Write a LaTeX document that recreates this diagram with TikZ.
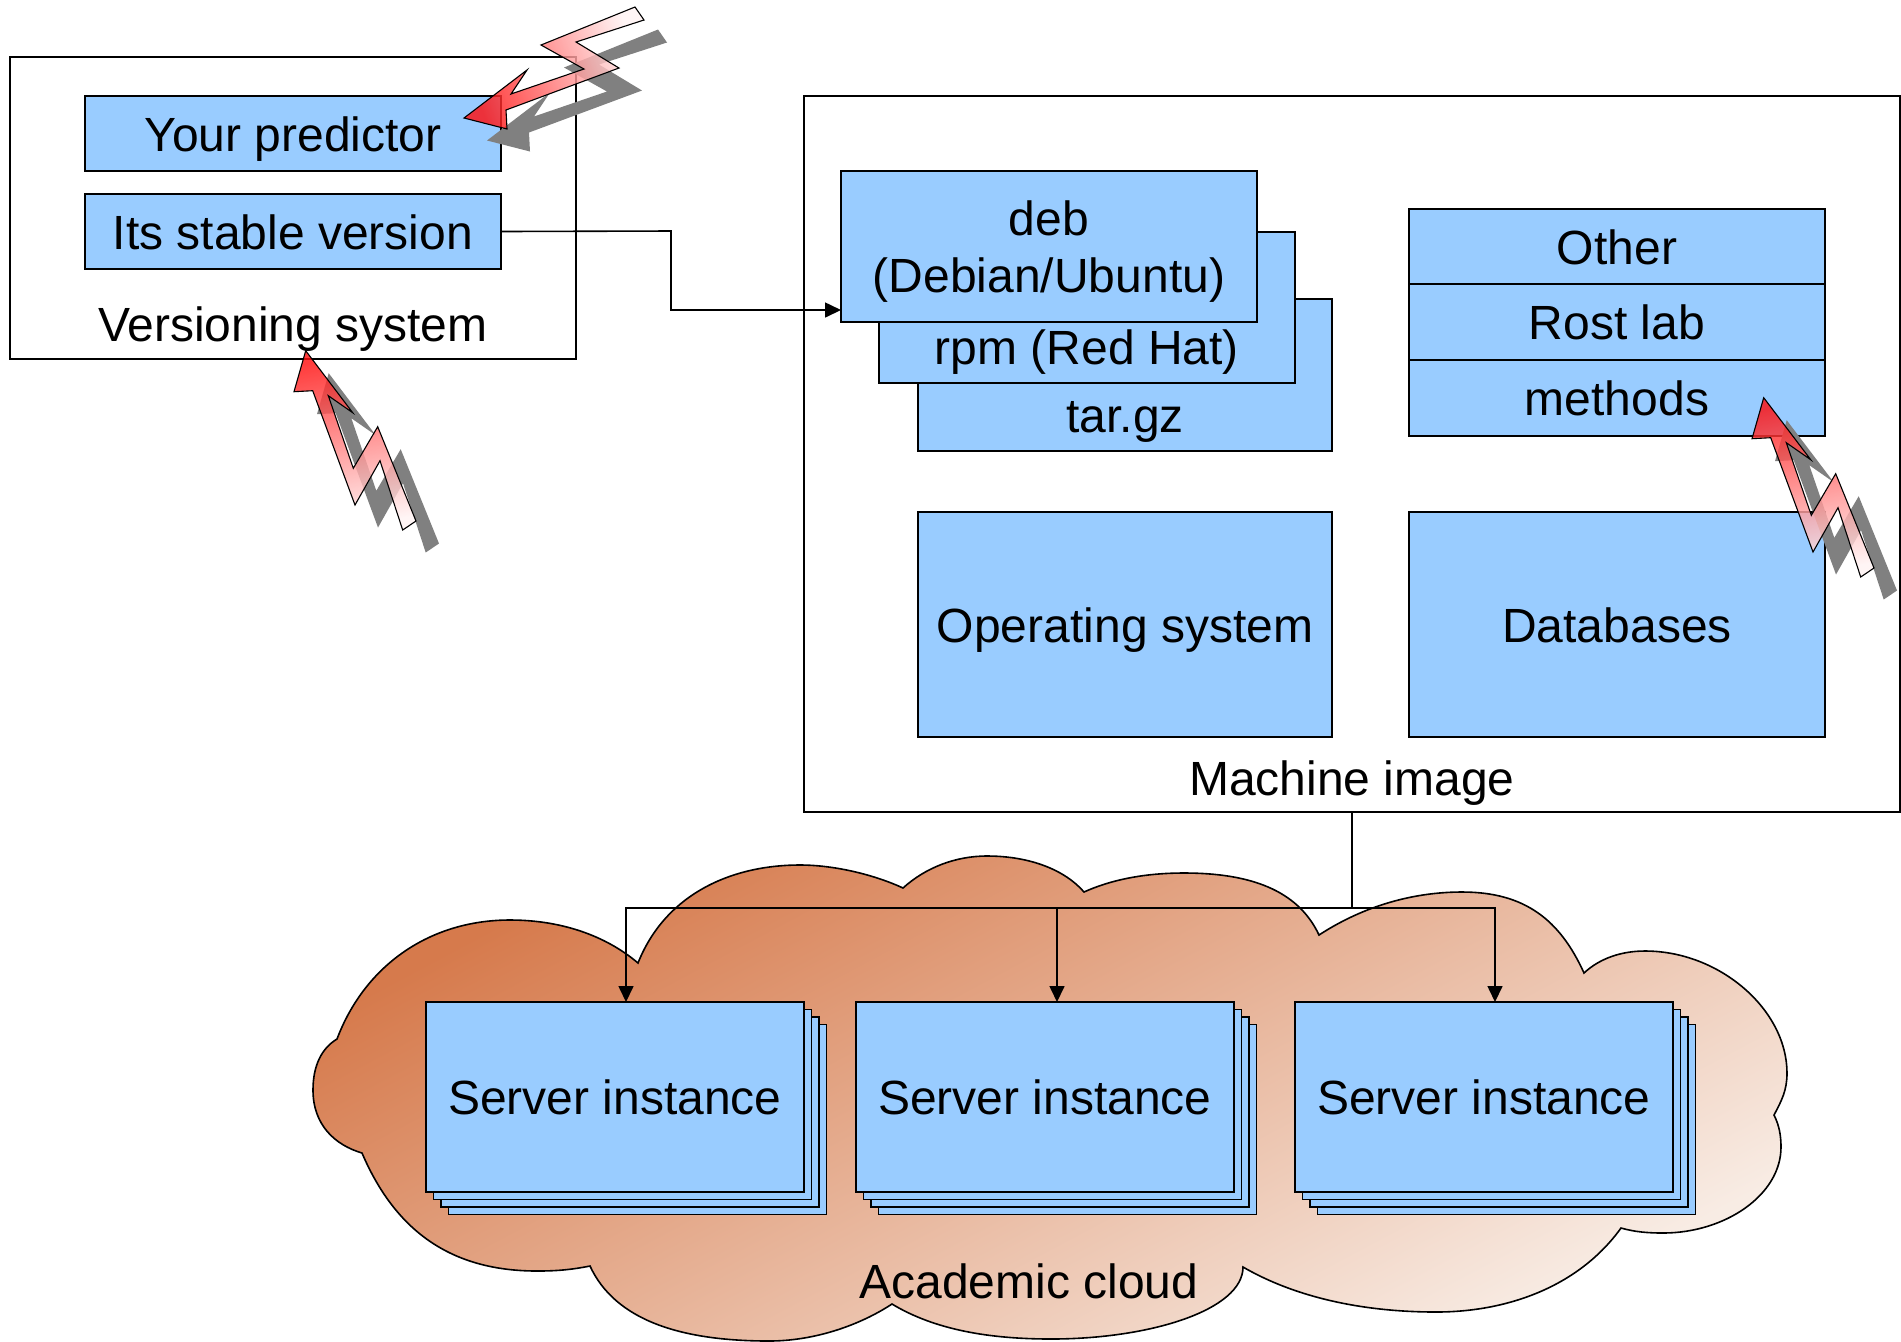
\documentclass[tikz,border=0pt]{standalone}
\usepackage{fontspec}
\setmainfont{Liberation Sans}
\usetikzlibrary{arrows.meta}
\definecolor{boxblue}{HTML}{99CCFF}
\definecolor{shadowgray}{HTML}{808080}
\definecolor{cloudA}{HTML}{D67A4C}
\definecolor{cloudB}{HTML}{F8ECE4}
\definecolor{boltA}{HTML}{FF1010}
\definecolor{boltB}{HTML}{FFF4F4}
\newcommand{\tstrut}{\rule[-0.2em]{0pt}{1.143em}}
\tikzset{
  x=0.5pt, y=-0.5pt,
  line/.style={line width=0.8pt, black},
  bluebox/.style={draw=black, fill=boxblue, line width=0.8pt, inner sep=0pt, outer sep=0pt, align=center, font=\fontsize{24pt}{26.8pt}\selectfont},
  whitebox/.style={bluebox, fill=white},
  lbl/.style={inner sep=0pt, outer sep=0pt, anchor=base, font=\fontsize{24pt}{26.8pt}\selectfont},
  conn/.style={line, -{Triangle[length=8pt,width=7.5pt]}},
  plainconn/.style={line},
  boltshadow/.style={fill=shadowgray, draw=none},
  boltfill/.style={left color=boltA, right color=boltB, draw=none, opacity=0.82},
  boltline/.style={draw=black, line width=0.55pt, fill=none, line join=miter},
}
\newcommand{\pxbox}[7][bluebox]{%
  \node[#1, minimum width={((#5)-(#3))*0.5pt}, minimum height={((#6)-(#4))*0.5pt}] (#2) at ({((#3)+(#5))/2},{((#4)+(#6))/2}) {#7};}
\newcommand{\serverstack}[3]{% name, left, top
  \pxbox{#1c}{#2+22.5}{#3+22.5}{#2+400.5}{#3+212.5}{}
  \pxbox{#1b}{#2+15}{#3+15}{#2+393}{#3+205}{}
  \pxbox{#1a}{#2+7.5}{#3+7.5}{#2+385.5}{#3+197.5}{}
  \pxbox{#1}{#2}{#3}{#2+378}{#3+190}{\tstrut Server instance}}
\def\boltA{(464,118) -- (527,70) -- (511,94) -- (584,69) -- (541,45) -- (635,7) -- (644,20) -- (576,42) -- (619,68) -- (506,110) -- (507,129) -- cycle}
\def\boltB{(305.7,350.7) -- (294,391.7) -- (312.7,390.7) -- (355,505) -- (380,460.7) -- (402.7,530) -- (416,521) -- (377.7,426.7) -- (353.3,468.3) -- (328.3,395.7) -- (352.7,412.7) -- cycle}
\begin{document}
\begin{tikzpicture}
\useasboundingbox (0,0) rectangle (1901,1341);
\fill[white] (0,0) rectangle (1901,1341);
% cloud
\begin{scope}
\clip (0,0) rectangle (1901,1341);
\path[draw=black, line width=0.8pt, left color=cloudA, right color=cloudB, shading angle=28]
 (337,1039) .. controls (365,965) and (430,920) .. (510,920) .. controls (560,920) and (605,935) .. (638,963)
 .. controls (665,895) and (730,865) .. (800,865) .. controls (835,865) and (875,875) .. (903,888)
 .. controls (925,868) and (955,856) .. (987,856) .. controls (1030,856) and (1065,870) .. (1084,892)
 .. controls (1115,878) and (1150,873) .. (1184,873) .. controls (1250,873) and (1298,890) .. (1319,935)
 .. controls (1365,905) and (1415,892) .. (1462,892) .. controls (1525,892) and (1560,920) .. (1584,973)
 .. controls (1600,958) and (1622,951) .. (1645,951) .. controls (1720,951) and (1787,1010) .. (1787,1073)
 .. controls (1787,1090) and (1782,1100) .. (1774,1115)
 .. controls (1779,1125) and (1781,1135) .. (1781,1147) .. controls (1781,1195) and (1725,1233) .. (1663,1233)
 .. controls (1648,1233) and (1635,1232) .. (1621,1228)
 .. controls (1580,1285) and (1510,1312) .. (1436,1312) .. controls (1370,1312) and (1300,1300) .. (1243,1267)
 .. controls (1243,1310) and (1150,1339) .. (1051,1339) .. controls (990,1339) and (935,1330) .. (892,1304)
 .. controls (860,1325) and (815,1341) .. (769,1341) .. controls (680,1341) and (615,1320) .. (590,1266)
 .. controls (570,1270) and (555,1271) .. (537,1271) .. controls (450,1271) and (395,1230) .. (362,1153)
 .. controls (335,1145) and (313,1125) .. (313,1090) .. controls (313,1065) and (322,1048) .. (337,1039) -- cycle;
\end{scope}
% versioning system
\pxbox[whitebox]{vers}{10}{57}{576}{359}{}
\pxbox{pred}{85}{96}{501}{171}{\tstrut Your predictor}
\pxbox{stable}{85}{194}{501}{269}{\tstrut Its stable version}
\node[lbl] (verslbl) at (293,341) {Versioning system};
% machine image
\pxbox[whitebox]{mach}{804}{96}{1900}{812}{}
\pxbox{tar}{918}{299}{1332}{451}{}
\node[lbl] (tarlbl) at (1125,432) {tar.gz};
\pxbox{rpm}{879}{232}{1295}{383}{}
\node[lbl] (rpmlbl) at (1087,364) {rpm (Red Hat)};
\pxbox{deb}{841}{171}{1257}{322}{\tstrut deb\\\tstrut (Debian/Ubuntu)}
\pxbox{other}{1409}{209}{1825}{284}{\tstrut Other}
\pxbox{rost}{1409}{284}{1825}{360}{\tstrut Rost lab}
\pxbox{meth}{1409}{360}{1825}{436}{\tstrut methods}
\pxbox{os}{918}{512}{1332}{737}{\tstrut Operating system}
\pxbox{db}{1409}{512}{1825}{737}{\tstrut Databases}
\node[lbl] (machlbl) at (1352,795) {Machine image};
% connectors
\coordinate (debin) at (841,310);
\coordinate (bend) at (671,231);
\draw[conn] (stable.east) -- (bend) |- (debin);
\coordinate (bus) at (mach.south |- 0,908);
\coordinate (a1) at (626,1002);
\coordinate (a2) at (1057,1002);
\coordinate (a3) at (1495,1002);
\draw[plainconn] (mach.south) -- (bus);
% servers
\serverstack{sa}{426}{1002}
\serverstack{sb}{856}{1002}
\serverstack{sc}{1295}{1002}
\draw[conn] (bus) -| (a1);
\draw[conn] (bus) -| (a2);
\draw[conn] (bus) -| (a3);
\node[lbl] (cloudlbl) at (1029,1298) {Academic cloud};
% lightning
\begin{scope}[shift={(23,22.5)}]
\path[boltshadow] \boltA;
\end{scope}
\path[boltfill, shading angle=110] \boltA;
\path[boltline] \boltA;
\begin{scope}[shift={(23,22.5)}]
\path[boltshadow] \boltB;
\end{scope}
\path[boltfill, shading angle=10] \boltB;
\path[boltline] \boltB;
\begin{scope}[shift={(1458,47)}]
\begin{scope}[shift={(23,22.5)}]
\path[boltshadow] \boltB;
\end{scope}
\path[boltfill, shading angle=10] \boltB;
\path[boltline] \boltB;
\end{scope}
\end{tikzpicture}
\end{document}
